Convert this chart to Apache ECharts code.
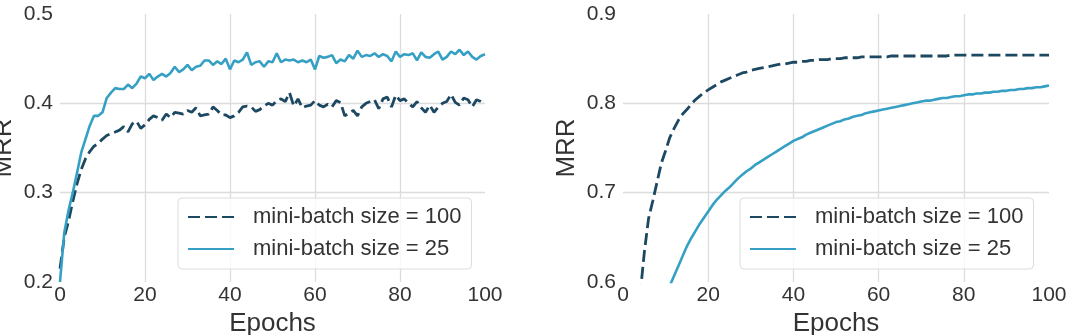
<!DOCTYPE html>
<html>
<head>
<meta charset="utf-8">
<script src="https://cdn.jsdelivr.net/npm/echarts@6/dist/echarts.min.js"></script>
<style>
  html, body { margin: 0; padding: 0; background: #fff; }
  #chart { width: 1066px; height: 335px; }
</style>
</head>
<body>
<div id="chart"></div>
<script>
// epochs 0..100
var epochs = []
for (var i = 0; i <= 100; i++) epochs.push(i)

// left panel, mini-batch size = 100 (dashed)
var leftBatch100 = [
  0.215, 0.250, 0.268, 0.290, 0.310, 0.326, 0.338, 0.346, 0.352, 0.355,
  0.360, 0.364, 0.366, 0.368, 0.370, 0.374, 0.368, 0.377, 0.380, 0.372,
  0.376, 0.382, 0.386, 0.384, 0.381, 0.388, 0.384, 0.390, 0.389, 0.388,
  0.392, 0.390, 0.395, 0.386, 0.387, 0.388, 0.396, 0.392, 0.387, 0.387,
  0.384, 0.386, 0.390, 0.396, 0.397, 0.396, 0.391, 0.393, 0.397, 0.400,
  0.398, 0.403, 0.405, 0.402, 0.412, 0.397, 0.405, 0.395, 0.397, 0.398,
  0.403, 0.398, 0.396, 0.399, 0.396, 0.403, 0.401, 0.386, 0.389, 0.392,
  0.386, 0.396, 0.400, 0.402, 0.404, 0.394, 0.405, 0.407, 0.396, 0.409,
  0.403, 0.405, 0.400, 0.396, 0.402, 0.395, 0.390, 0.398, 0.390, 0.396,
  0.400, 0.402, 0.410, 0.401, 0.398, 0.406, 0.404, 0.396, 0.404, 0.402,
  0.399
]
// left panel, mini-batch size = 25 (solid)
var leftBatch25 = [
  0.200, 0.255, 0.280, 0.300, 0.322, 0.345, 0.360, 0.375, 0.386, 0.386,
  0.390, 0.406, 0.412, 0.417, 0.416, 0.416, 0.421, 0.417, 0.422, 0.430,
  0.428, 0.433, 0.426, 0.430, 0.433, 0.430, 0.434, 0.441, 0.435, 0.438,
  0.443, 0.437, 0.441, 0.442, 0.448, 0.448, 0.443, 0.447, 0.444, 0.450,
  0.438, 0.448, 0.446, 0.449, 0.457, 0.443, 0.446, 0.447, 0.441, 0.447,
  0.446, 0.456, 0.446, 0.449, 0.448, 0.449, 0.446, 0.448, 0.446, 0.449,
  0.438, 0.453, 0.451, 0.452, 0.454, 0.445, 0.449, 0.447, 0.454, 0.450,
  0.459, 0.452, 0.454, 0.453, 0.456, 0.452, 0.455, 0.453, 0.447, 0.458,
  0.452, 0.455, 0.454, 0.456, 0.448, 0.457, 0.452, 0.451, 0.455, 0.458,
  0.449, 0.452, 0.458, 0.455, 0.460, 0.454, 0.458, 0.452, 0.449, 0.453,
  0.455
]
// right panel, mini-batch size = 100 (dashed)
var rightBatch100 = [
  0.300, 0.420, 0.500, 0.555, 0.585, 0.633, 0.671, 0.691, 0.712, 0.733,
  0.747, 0.762, 0.772, 0.781, 0.788, 0.793, 0.799, 0.804, 0.808, 0.812,
  0.815, 0.818, 0.821, 0.824, 0.826, 0.828, 0.830, 0.832, 0.834, 0.835,
  0.837, 0.838, 0.839, 0.840, 0.841, 0.842, 0.843, 0.844, 0.844, 0.845,
  0.846, 0.846, 0.847, 0.847, 0.848, 0.848, 0.849, 0.849, 0.849, 0.850,
  0.850, 0.850, 0.851, 0.851, 0.851, 0.851, 0.852, 0.852, 0.852, 0.852,
  0.852, 0.852, 0.852, 0.853, 0.853, 0.853, 0.853, 0.853, 0.853, 0.853,
  0.853, 0.853, 0.853, 0.853, 0.853, 0.853, 0.853, 0.854, 0.854, 0.854,
  0.854, 0.854, 0.854, 0.854, 0.854, 0.854, 0.854, 0.854, 0.854, 0.854,
  0.854, 0.854, 0.854, 0.854, 0.854, 0.854, 0.854, 0.854, 0.854, 0.854,
  0.854
]
// right panel, mini-batch size = 25 (solid)
var rightBatch25 = [
  0.300, 0.360, 0.400, 0.440, 0.470, 0.495, 0.515, 0.535, 0.553, 0.569,
  0.583, 0.596, 0.607, 0.618, 0.629, 0.640, 0.649, 0.657, 0.665, 0.672,
  0.679, 0.686, 0.692, 0.697, 0.702, 0.706, 0.711, 0.716, 0.720, 0.724,
  0.727, 0.731, 0.734, 0.737, 0.740, 0.743, 0.746, 0.749, 0.752, 0.755,
  0.758, 0.760, 0.762, 0.765, 0.767, 0.769, 0.771, 0.773, 0.775, 0.777,
  0.779, 0.780, 0.782, 0.783, 0.785, 0.786, 0.787, 0.789, 0.790, 0.791,
  0.792, 0.793, 0.794, 0.795, 0.796, 0.797, 0.798, 0.799, 0.800, 0.801,
  0.802, 0.803, 0.803, 0.804, 0.805, 0.806, 0.806, 0.807, 0.808, 0.808,
  0.809, 0.810, 0.810, 0.811, 0.811, 0.812, 0.812, 0.813, 0.813, 0.814,
  0.814, 0.815, 0.815, 0.816, 0.816, 0.817, 0.817, 0.818, 0.818, 0.819,
  0.820
]

var name100 = 'mini-batch size = 100'
var name25 = 'mini-batch size = 25'
var darkBlue = '#1c4862'
var lightBlue = '#35a0c4'
var textColor = '#333'
var font = 'Liberation Sans'

function pairs (ys) {
  return epochs.map(function (x, i) { return [x, ys[i]] })
}

function xAxis (idx) {
  return {
    type: 'value', gridIndex: idx, min: 0, max: 100, interval: 20,
    name: 'Epochs', nameLocation: 'middle', nameGap: 28,
    nameTextStyle: { fontSize: 26, color: textColor, fontFamily: font },
    axisLine: { show: false }, axisTick: { show: false },
    axisLabel: { fontSize: 21, color: textColor, fontFamily: font, margin: 3 },
    splitLine: { show: true, showMinLine: false, showMaxLine: false, lineStyle: { color: '#dcdcdc', width: 1.3 } }
  }
}

function yAxis (idx, min, max) {
  return {
    type: 'value', gridIndex: idx, min: min, max: max, interval: 0.1,
    name: 'MRR', nameLocation: 'middle', nameGap: 43,
    nameTextStyle: { fontSize: 26, color: textColor, fontFamily: font },
    axisLine: { show: false }, axisTick: { show: false },
    axisLabel: { fontSize: 21, color: textColor, fontFamily: font, margin: 7,
      formatter: function (v) { return v.toFixed(1) } },
    splitLine: { show: true, showMinLine: false, showMaxLine: false, lineStyle: { color: '#dcdcdc', width: 1.3 } }
  }
}

function dashed (idx, ys) {
  return {
    name: name100, type: 'line', xAxisIndex: idx, yAxisIndex: idx,
    data: pairs(ys), symbol: 'none', clip: true,
    lineStyle: { color: darkBlue, width: 2.8, type: [12, 5] },
    itemStyle: { color: darkBlue }
  }
}

function solid (idx, ys) {
  return {
    name: name25, type: 'line', xAxisIndex: idx, yAxisIndex: idx,
    data: pairs(ys), symbol: 'none', clip: true,
    lineStyle: { color: lightBlue, width: 2.6 },
    itemStyle: { color: lightBlue }
  }
}

function legend (left) {
  return {
    orient: 'vertical', left: left, top: 198,
    data: [name100, name25],
    itemWidth: 46, itemHeight: 14, itemGap: 10,
    padding: [8, 10, 9, 9],
    backgroundColor: 'rgba(255,255,255,0.8)',
    borderColor: '#dddddd', borderWidth: 1, borderRadius: 4,
    selectedMode: false,
    itemStyle: { opacity: 0 },
    textStyle: { fontSize: 22, color: textColor, fontFamily: font, padding: [0, 0, 0, 14] }
  }
}

var myChart = echarts.init(document.getElementById('chart'), null, { renderer: 'canvas' })
myChart.setOption({
  animation: false,
  backgroundColor: '#fff',
  grid: [
    { left: 60, right: 581, top: 14, bottom: 53, outerBoundsMode: 'none', containLabel: false },
    { left: 623, right: 17, top: 14, bottom: 53, outerBoundsMode: 'none', containLabel: false }
  ],
  xAxis: [xAxis(0), xAxis(1)],
  yAxis: [yAxis(0, 0.2, 0.5), yAxis(1, 0.6, 0.9)],
  legend: [legend(178), legend(740)],
  series: [
    dashed(0, leftBatch100), solid(0, leftBatch25),
    dashed(1, rightBatch100), solid(1, rightBatch25)
  ]
})
</script>
</body>
</html>
